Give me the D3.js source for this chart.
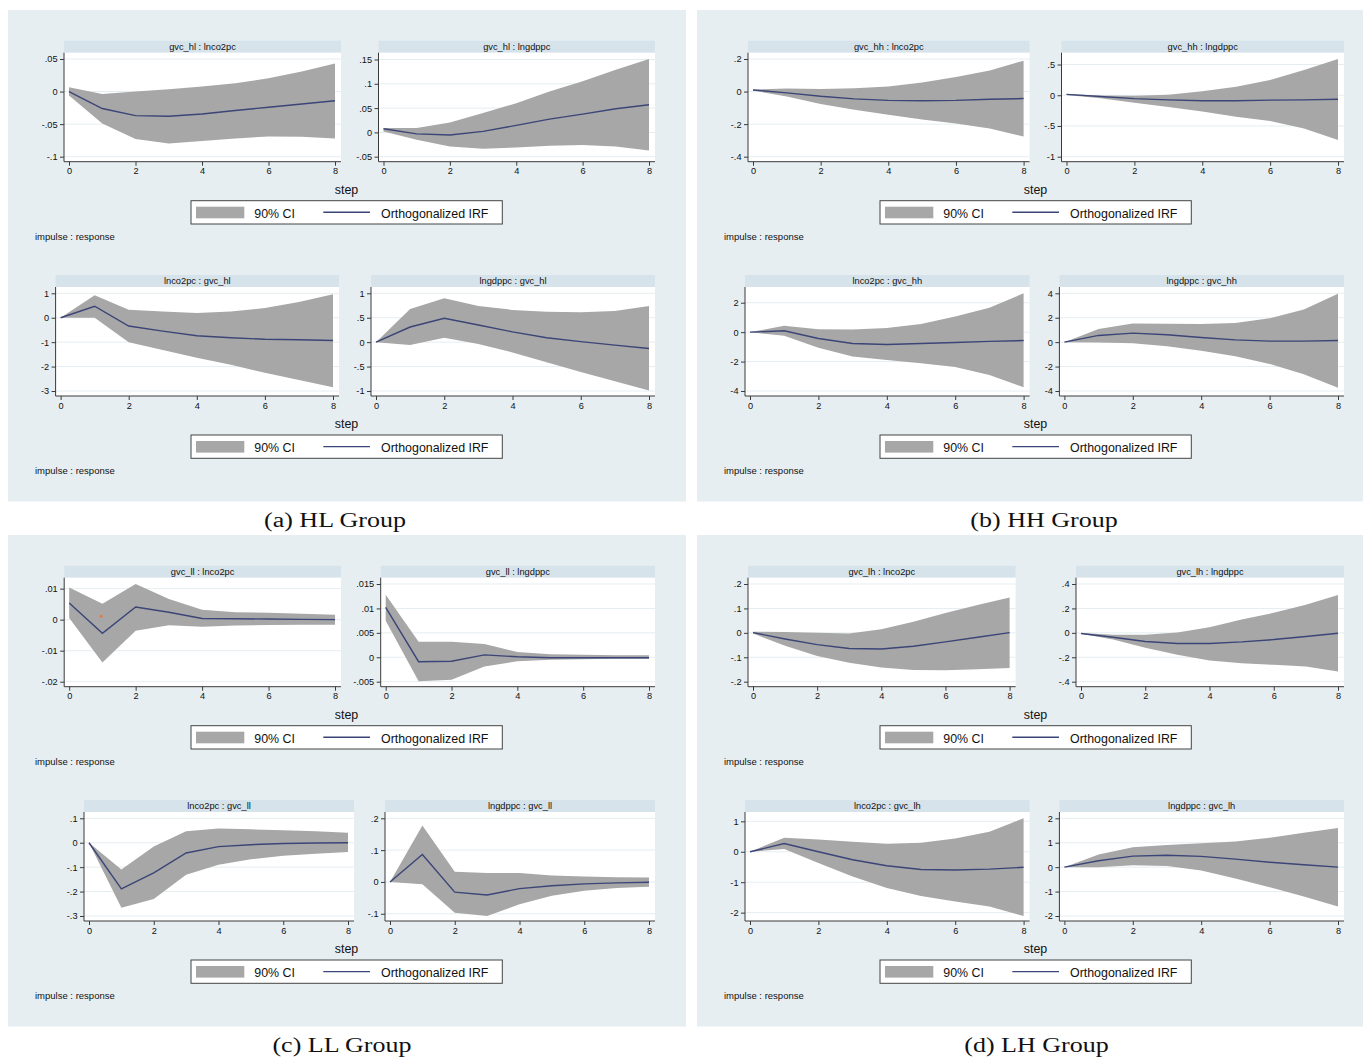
<!DOCTYPE html>
<html>
<head>
<meta charset="utf-8">
<script src="https://cdn.jsdelivr.net/npm/d3@7"></script>
<style>
body{margin:0;background:#fff}
text{font-family:"Liberation Sans",Arial,Helvetica,sans-serif}
</style>
</head>
<body>
<div id="chart"></div>
<script>
// steps 0..8 of the orthogonalized IRF
const steps = [0, 1, 2, 3, 4, 5, 6, 7, 8]
const stepTicks = [0, 2, 4, 6, 8]
const legendLabels = ['90% CI', 'Orthogonalized IRF']

// (a) HL group
const hl_co2_irf = [0, -.026, -.037, -.038, -.0345, -.029, -.024, -.019, -.014]
const hl_co2_lo = [-.006, -.049, -.073, -.0797, -.076, -.072, -.069, -.0695, -.072]
const hl_co2_hi = [.0066, -.0036, 0, .0036, .0076, .0127, .0203, .031, .043]
const hl_co2_ticks = [-.1, -.05, 0, .05]

const hl_gdp_irf = [.0075, -.003, -.0055, .002, .0144, .0274, .0377, .0486, .057]
const hl_gdp_lo = [.002, -.015, -.029, -.0335, -.031, -.0275, -.026, -.029, -.037]
const hl_gdp_hi = [.009, .009, .0205, .04, .06, .084, .105, .129, .151]
const hl_gdp_ticks = [-.05, 0, .05, .1, .15]

const hl_co2_gvc_irf = [0, .47, -.34, -.55, -.74, -.82, -.88, -.9, -.93]
const hl_co2_gvc_lo = [0, 0, -1.0, -1.32, -1.64, -1.93, -2.25, -2.55, -2.85]
const hl_co2_gvc_hi = [0, .92, .33, .26, .19, .25, .4, .64, .96]
const hl_co2_gvc_ticks = [-3, -2, -1, 0, 1]

const hl_gdp_gvc_irf = [0, .31, .49, .35, .21, .09, .01, -.06, -.13]
const hl_gdp_gvc_lo = [0, -.06, .09, -.04, -.21, -.41, -.61, -.8, -.99]
const hl_gdp_gvc_hi = [0, .68, .9, .74, .66, .62, .61, .64, .74]
const hl_gdp_gvc_ticks = [-1, -.5, 0, .5, 1]

// (b) HH group
const hh_co2_irf = [.01, -.008, -.029, -.045, -.054, -.056, -.054, -.047, -.043]
const hh_co2_lo = [.006, -.031, -.076, -.111, -.142, -.171, -.196, -.227, -.276]
const hh_co2_hi = [.012, .019, .016, .02, .031, .056, .089, .13, .19]
const hh_co2_ticks = [-.4, -.2, 0, .2]

const hh_gdp_irf = [.015, -.02, -.055, -.075, -.09, -.09, -.08, -.075, -.065]
const hh_gdp_lo = [.005, -.05, -.12, -.19, -.265, -.35, -.42, -.54, -.73]
const hh_gdp_hi = [.016, -.005, -.01, .01, .065, .14, .25, .41, .59]
const hh_gdp_ticks = [-1, -.5, 0, .5]

const hh_co2_gvc_irf = [0, .09, -.43, -.77, -.84, -.77, -.7, -.63, -.57]
const hh_co2_gvc_lo = [0, -.25, -1.06, -1.65, -1.9, -2.12, -2.37, -2.92, -3.75]
const hh_co2_gvc_hi = [0, .43, .2, .18, .29, .56, 1.06, 1.65, 2.64]
const hh_co2_gvc_ticks = [-4, -2, 0, 2]

const hh_gdp_gvc_irf = [0, .55, .74, .6, .38, .19, .08, .08, .14]
const hh_gdp_gvc_lo = [0, -.03, -.08, -.33, -.71, -1.15, -1.78, -2.63, -3.73]
const hh_gdp_gvc_hi = [0, 1.07, 1.53, 1.5, 1.48, 1.56, 1.95, 2.68, 3.97]
const hh_gdp_gvc_ticks = [-4, -2, 0, 2, 4]

// (c) LL group
const ll_co2_irf = [.0054, -.0044, .0041, .0024, .0004, .0003, .0002, .0001, 0]
const ll_co2_lo = [.0005, -.0138, -.0036, -.0018, -.0023, -.0019, -.0017, -.0016, -.0016]
const ll_co2_hi = [.0104, .0051, .0115, .0067, .0032, .0024, .0022, .0019, .0016]
const ll_co2_ticks = [-.02, -.01, 0, .01]
const ll_co2_dot = [[.96, .0011]]   // stray orange marker in the source

const ll_gdp_irf = [.0102, -.0009, -.0008, .0005, .0001, -.0001, -.0001, -.0001, -.0001]
const ll_gdp_lo = [.0075, -.0049, -.0046, -.0019, -.0008, -.0005, -.0004, -.0003, -.0003]
const ll_gdp_hi = [.0128, .0032, .0032, .0027, .0011, .0006, .0005, .0004, .0004]
const ll_gdp_ticks = [-.005, 0, .005, .01, .015]

const ll_co2_gvc_irf = [0, -.189, -.123, -.042, -.016, -.008, -.003, -.001, 0]
const ll_co2_gvc_lo = [0, -.266, -.23, -.131, -.09, -.068, -.053, -.045, -.038]
const ll_co2_gvc_hi = [0, -.11, -.015, .047, .058, .055, .051, .047, .041]
const ll_co2_gvc_ticks = [-.3, -.2, -.1, 0, .1]

const ll_gdp_gvc_irf = [0, .086, -.032, -.041, -.021, -.012, -.006, -.003, -.001]
const ll_gdp_gvc_lo = [0, -.007, -.097, -.107, -.07, -.043, -.028, -.019, -.015]
const ll_gdp_gvc_hi = [0, .177, .032, .028, .028, .02, .017, .015, .014]
const ll_gdp_gvc_ticks = [-.1, 0, .1, .2]

// (d) LH group
const lh_co2_irf = [.001, -.025, -.048, -.064, -.066, -.055, -.037, -.018, .001]
const lh_co2_lo = [-.003, -.053, -.095, -.122, -.142, -.152, -.153, -.149, -.144]
const lh_co2_hi = [.005, .003, 0, -.003, .015, .045, .081, .114, .145]
const lh_co2_ticks = [-.2, -.1, 0, .1, .2]

const lh_gdp_irf = [-.005, -.036, -.071, -.087, -.087, -.074, -.055, -.03, -.003]
const lh_gdp_lo = [-.008, -.055, -.123, -.18, -.227, -.249, -.262, -.276, -.317]
const lh_gdp_hi = [-.002, -.016, -.016, .003, .046, .109, .164, .23, .31]
const lh_gdp_ticks = [-.4, -.2, 0, .2, .4]

const lh_co2_gvc_irf = [0, .27, 0, -.26, -.46, -.58, -.6, -.57, -.51]
const lh_co2_gvc_lo = [0, .09, -.37, -.81, -1.19, -1.45, -1.63, -1.8, -2.11]
const lh_co2_gvc_hi = [0, .46, .4, .33, .26, .3, .44, .66, 1.1]
const lh_co2_gvc_ticks = [-2, -1, 0, 1]

const lh_gdp_gvc_irf = [0, .26, .45, .49, .44, .33, .2, .1, 0]
const lh_gdp_gvc_lo = [0, 0, .08, .05, -.14, -.46, -.82, -1.2, -1.61]
const lh_gdp_gvc_hi = [0, .52, .81, .91, .98, 1.05, 1.2, 1.41, 1.6]
const lh_gdp_gvc_ticks = [-2, -1, 0, 1, 2]

// group boxes; rows hold [left,right] of each plot region relative to group x
const groups = [
    {x: 8, y: 10, caption: '(a) HL Group', capX: 327,
     rows: [[[56, 333], [370.5, 647]], [[47.6, 331], [363, 647]]],
     panels: [
        ['gvc_hl : lnco2pc', hl_co2_irf, hl_co2_lo, hl_co2_hi, hl_co2_ticks],
        ['gvc_hl : lngdppc', hl_gdp_irf, hl_gdp_lo, hl_gdp_hi, hl_gdp_ticks],
        ['lnco2pc : gvc_hl', hl_co2_gvc_irf, hl_co2_gvc_lo, hl_co2_gvc_hi, hl_co2_gvc_ticks],
        ['lngdppc : gvc_hl', hl_gdp_gvc_irf, hl_gdp_gvc_lo, hl_gdp_gvc_hi, hl_gdp_gvc_ticks]]},
    {x: 697, y: 10, caption: '(b) HH Group', capX: 347,
     rows: [[[51, 332.6], [364.5, 647]], [[48, 332.6], [362.4, 647]]],
     panels: [
        ['gvc_hh : lnco2pc', hh_co2_irf, hh_co2_lo, hh_co2_hi, hh_co2_ticks],
        ['gvc_hh : lngdppc', hh_gdp_irf, hh_gdp_lo, hh_gdp_hi, hh_gdp_ticks],
        ['lnco2pc : gvc_hh', hh_co2_gvc_irf, hh_co2_gvc_lo, hh_co2_gvc_hi, hh_co2_gvc_ticks],
        ['lngdppc : gvc_hh', hh_gdp_gvc_irf, hh_gdp_gvc_lo, hh_gdp_gvc_hi, hh_gdp_gvc_ticks]]},
    {x: 8, y: 535, caption: '(c) LL Group', capX: 334,
     rows: [[[56.2, 333], [372.7, 647]], [[76, 346], [377, 647]]],
     panels: [
        ['gvc_ll : lnco2pc', ll_co2_irf, ll_co2_lo, ll_co2_hi, ll_co2_ticks, ll_co2_dot],
        ['gvc_ll : lngdppc', ll_gdp_irf, ll_gdp_lo, ll_gdp_hi, ll_gdp_ticks],
        ['lnco2pc : gvc_ll', ll_co2_gvc_irf, ll_co2_gvc_lo, ll_co2_gvc_hi, ll_co2_gvc_ticks],
        ['lngdppc : gvc_ll', ll_gdp_gvc_irf, ll_gdp_gvc_lo, ll_gdp_gvc_hi, ll_gdp_gvc_ticks]]},
    {x: 697, y: 535, caption: '(d) LH Group', capX: 339.5,
     rows: [[[51, 318.6], [379, 647]], [[48, 332.6], [362.4, 647]]],
     panels: [
        ['gvc_lh : lnco2pc', lh_co2_irf, lh_co2_lo, lh_co2_hi, lh_co2_ticks],
        ['gvc_lh : lngdppc', lh_gdp_irf, lh_gdp_lo, lh_gdp_hi, lh_gdp_ticks],
        ['lnco2pc : gvc_lh', lh_co2_gvc_irf, lh_co2_gvc_lo, lh_co2_gvc_hi, lh_co2_gvc_ticks],
        ['lngdppc : gvc_lh', lh_gdp_gvc_irf, lh_gdp_gvc_lo, lh_gdp_gvc_hi, lh_gdp_gvc_ticks]]}
]

const bgColor = '#e7eef1', stripColor = '#d7e3ea', ciColor = '#a7a7a7',
      irfColor = '#3b4577', axisColor = '#3a3a3a', gridColor = '#e6edf1'
const rowStep = 234.3
const fmt = d => d === 0 ? '0' : String(d).replace('0.', '.')

let svg = d3.select('#chart').append('svg')
    .attr('width', 1363).attr('height', 1057)
    .style('background', '#fff')

function drawPanel(g, p, x0, x1, ry){
    let [title, irf, lo, hi, ticks, dots] = p
    let top = ry + 42.7, bot = ry + 151.7
    let scX = d3.scaleLinear().domain([0, 8]).range([x0 + 5, x1 - 6])
    let all = lo.concat(hi, irf, ticks)
    let scY = d3.scaleLinear().domain(d3.extent(all)).range([ry + 146.7, ry + 49])

    g.append('rect').attr('x', x0).attr('y', ry + 30.7)
        .attr('width', x1 - x0).attr('height', 12).attr('fill', stripColor)
    g.append('text').attr('x', (x0 + x1) / 2).attr('y', ry + 40)
        .attr('text-anchor', 'middle').attr('font-size', '9.3px').attr('fill', '#111')
        .text(title)

    g.append('rect').attr('x', x0).attr('y', top)
        .attr('width', x1 - x0).attr('height', bot - top).attr('fill', '#fff')

    g.selectAll(null).data(ticks).enter().append('line')
        .attr('x1', x0).attr('x2', x1)
        .attr('y1', d => scY(d)).attr('y2', d => scY(d))
        .attr('stroke', gridColor).attr('stroke-width', 1)

    let band = steps.map((s, i) => ({s, lo: lo[i], hi: hi[i]}))
    let area = d3.area().x(d => scX(d.s)).y0(d => scY(d.lo)).y1(d => scY(d.hi))
    g.append('path').attr('d', area(band)).attr('fill', ciColor)

    let line = d3.line().x((d, i) => scX(steps[i])).y(d => scY(d))
    g.append('path').attr('d', line(irf)).attr('fill', 'none')
        .attr('stroke', irfColor).attr('stroke-width', 1.4)

    if (dots) {
        g.selectAll(null).data(dots).enter().append('circle')
            .attr('cx', d => scX(d[0])).attr('cy', d => scY(d[1]))
            .attr('r', 1.4).attr('fill', '#e8773a')
    }

    let ya = g.append('g').attr('transform', `translate(${x0},0)`)
        .call(d3.axisLeft(scY).tickValues(ticks).tickFormat(fmt).tickSize(4).tickPadding(2.5))
    ya.select('.domain').remove()
    ya.append('line').attr('x1', 0).attr('x2', 0).attr('y1', top).attr('y2', bot)
        .attr('stroke', axisColor)
    ya.attr('font-size', 9.2).attr('font-family', null)
    ya.selectAll('line').attr('stroke', axisColor)
    ya.selectAll('text').attr('fill', '#111')

    let xa = g.append('g').attr('transform', `translate(0,${bot})`)
        .call(d3.axisBottom(scX).tickValues(stepTicks).tickSize(4).tickPadding(2))
    xa.select('.domain').remove()
    xa.append('line').attr('x1', x0).attr('x2', x1).attr('y1', 0).attr('y2', 0)
        .attr('stroke', axisColor)
    xa.attr('font-size', 9.2).attr('font-family', null)
    xa.selectAll('line').attr('stroke', axisColor)
    xa.selectAll('text').attr('fill', '#111')
}

function drawLegend(g, ry){
    g.append('rect').attr('x', 183).attr('y', ry + 190.7)
        .attr('width', 311.3).attr('height', 23.3)
        .attr('fill', '#fff').attr('stroke', '#444').attr('stroke-width', 1)
    g.append('rect').attr('x', 188).attr('y', ry + 196.7)
        .attr('width', 48.3).attr('height', 11.6).attr('fill', ciColor)
    g.append('text').attr('x', 246.3).attr('y', ry + 208)
        .attr('font-size', '12.4px').attr('fill', '#111').text(legendLabels[0])
    g.append('line').attr('x1', 315.3).attr('x2', 362)
        .attr('y1', ry + 202.3).attr('y2', ry + 202.3)
        .attr('stroke', irfColor).attr('stroke-width', 1.4)
    g.append('text').attr('x', 373).attr('y', ry + 208)
        .attr('font-size', '12.4px').attr('fill', '#111').text(legendLabels[1])
}

groups.forEach(grp=>{
    let g = svg.append('g').attr('transform', `translate(${grp.x},${grp.y})`)
    g.append('rect').attr('width', 678).attr('height', 491.5).attr('fill', bgColor)

    grp.rows.forEach((row, r)=>{
        let ry = r * rowStep
        row.forEach((pos, c)=>{
            drawPanel(g, grp.panels[r * 2 + c], pos[0], pos[1], ry)
        })
        g.append('text').attr('x', 338.5).attr('y', ry + 183.5)
            .attr('text-anchor', 'middle').attr('font-size', '12.4px').attr('fill', '#111')
            .text('step')
        drawLegend(g, ry)
        g.append('text').attr('x', 27).attr('y', ry + 229.5)
            .attr('font-size', '9.5px').attr('fill', '#111')
            .text('impulse : response')
    })

    let cap = g.append('text').attr('x', grp.capX).attr('y', 516.5)
        .attr('text-anchor', 'middle')
        .style('font-family', '"Liberation Serif","Times New Roman",serif')
        .attr('font-size', '20px').attr('fill', '#111')
        .text(grp.caption)
    let w = cap.node().getComputedTextLength()
    cap.attr('textLength', w * 1.3).attr('lengthAdjust', 'spacingAndGlyphs')
})
</script>
</body>
</html>
